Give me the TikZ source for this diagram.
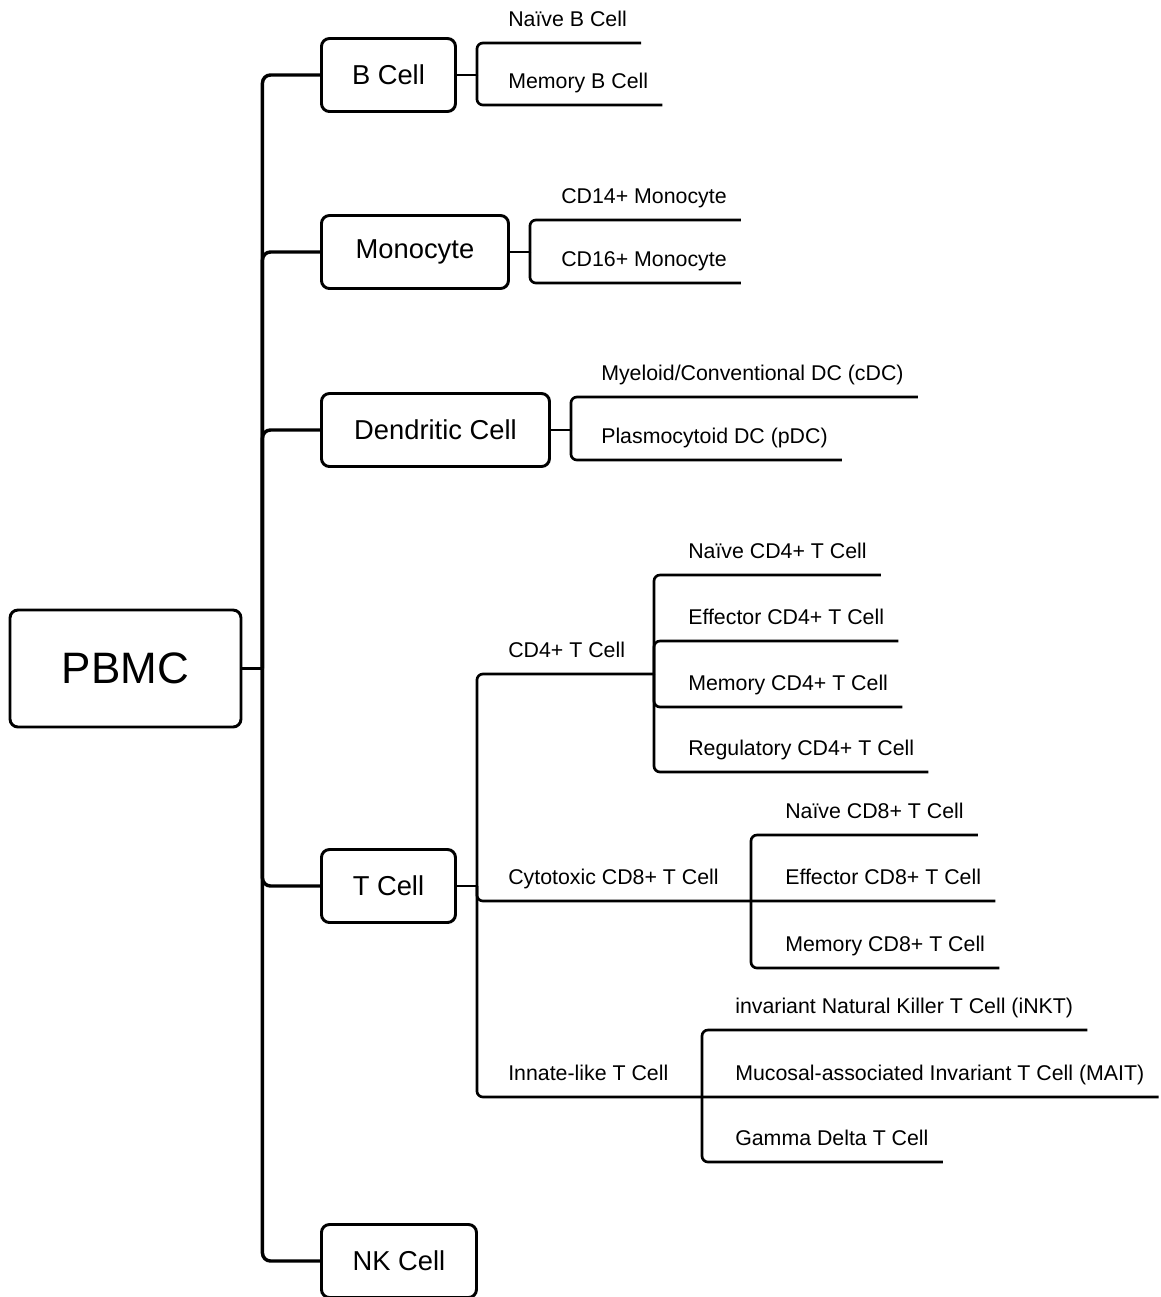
\documentclass[tikz,border=0pt]{standalone}
\usepackage{fontspec}
\setmainfont{Liberation Sans}

\begin{document}
\begin{tikzpicture}[x=0.75pt, y=-0.75pt]
\tikzset{Box/.style ={draw, line width=2.2pt, rounded corners=6pt, minimum height=54.75pt, font=\fontsize{20.5}{25}\selectfont}}
\tikzset{Leaf/.style ={anchor=south west, inner xsep=0pt, inner ysep=12pt, text depth=0pt, font=\fontsize{16}{19}\selectfont}}
\tikzset{Trunk/.style ={line width=2.6pt, rounded corners=6pt}}
\tikzset{Twig/.style ={line width=2pt, rounded corners=4.5pt}}
\useasboundingbox (0,0) rectangle (1161,1297);

\node[Box, minimum width=173.25pt, minimum height=87.75pt, font=\fontsize{33}{40}\selectfont] (PBMC) at (125.5,668.5) {PBMC};
\node[Box, anchor=west, minimum width=100.5pt] (B) at (320,75) {B Cell};
\node[Box, anchor=west, minimum width=140.25pt] (Mono) at (320,252) {Monocyte};
\node[Box, anchor=west, minimum width=171pt] (DC) at (320,430) {Dendritic Cell};
\node[Box, anchor=west, minimum width=100.5pt] (T) at (320,886) {T Cell};
\node[Box, anchor=west, minimum width=116.25pt] (NK) at (320,1261) {NK Cell};

\draw[Trunk] (PBMC.east) -- ++(20,0) coordinate (root);
\foreach \c in {B,Mono,DC,T,NK}
  \draw[Trunk] (root) |- (\c.west);

% B cells
\draw[Twig] (B.east) -- ++(20,0) coordinate (Bj);
\node[Leaf] (nB) at (508,43) {Naïve B Cell};
\node[Leaf] (mB) at (508,105) {Memory B Cell};
\foreach \n in {nB,mB}
  \draw[Twig] (Bj) |- (\n.south west) -- ([xshift=10.5pt]\n.south east);

% monocytes
\draw[Twig] (Mono.east) -- ++(20,0) coordinate (Monoj);
\node[Leaf] (m14) at (561,220) {CD14+ Monocyte};
\node[Leaf] (m16) at (561,283) {CD16+ Monocyte};
\foreach \n in {m14,m16}
  \draw[Twig] (Monoj) |- (\n.south west) -- ([xshift=10.5pt]\n.south east);

% dendritic cells
\draw[Twig] (DC.east) -- ++(20,0) coordinate (DCj);
\node[Leaf] (cDC) at (601,397) {Myeloid/Conventional DC (cDC)};
\node[Leaf] (pDC) at (601,460) {Plasmocytoid DC (pDC)};
\foreach \n in {cDC,pDC}
  \draw[Twig] (DCj) |- (\n.south west) -- ([xshift=10.5pt]\n.south east);

% T cells
\draw[Twig] (T.east) -- ++(20,0) coordinate (Tj);
\node[Leaf] (cd4) at (508,674) {CD4+ T Cell};
\node[Leaf] (cd8) at (508,901) {Cytotoxic CD8+ T Cell};
\node[Leaf] (inn) at (508,1097) {Innate-like T Cell};
\coordinate (cd4j) at (654,674);
\coordinate (cd8j) at (751,901);
\coordinate (innj) at (702,1097);

\node[Leaf] (n4) at (688,575) {Naïve CD4+ T Cell};
\node[Leaf] (e4) at (688,641) {Effector CD4+ T Cell};
\node[Leaf] (m4) at (688,707) {Memory CD4+ T Cell};
\node[Leaf] (r4) at (688,772) {Regulatory CD4+ T Cell};
\draw[Twig] (Tj) |- (cd4.south west) -- (cd4j);
\foreach \n in {n4,e4,m4,r4}
  \draw[Twig] (cd4j) |- (\n.south west) -- ([xshift=10.5pt]\n.south east);

\node[Leaf] (n8) at (785,835) {Naïve CD8+ T Cell};
\node[Leaf] (e8) at (785,901) {Effector CD8+ T Cell};
\node[Leaf] (m8) at (785,968) {Memory CD8+ T Cell};
\draw[Twig] (Tj) |- (cd8.south west) -- ([xshift=10.5pt]e8.south east);
\foreach \n in {n8,m8}
  \draw[Twig] (cd8j) |- (\n.south west) -- ([xshift=10.5pt]\n.south east);

\node[Leaf] (inkt) at (735,1030) {invariant Natural Killer T Cell (iNKT)};
\node[Leaf] (mait) at (735,1097) {Mucosal-associated Invariant T Cell (MAIT)};
\node[Leaf] (gd) at (735,1162) {Gamma Delta T Cell};
\draw[Twig] (Tj) |- (inn.south west) -- ([xshift=10.5pt]mait.south east);
\foreach \n in {inkt,gd}
  \draw[Twig] (innj) |- (\n.south west) -- ([xshift=10.5pt]\n.south east);
\end{tikzpicture}
\end{document}
